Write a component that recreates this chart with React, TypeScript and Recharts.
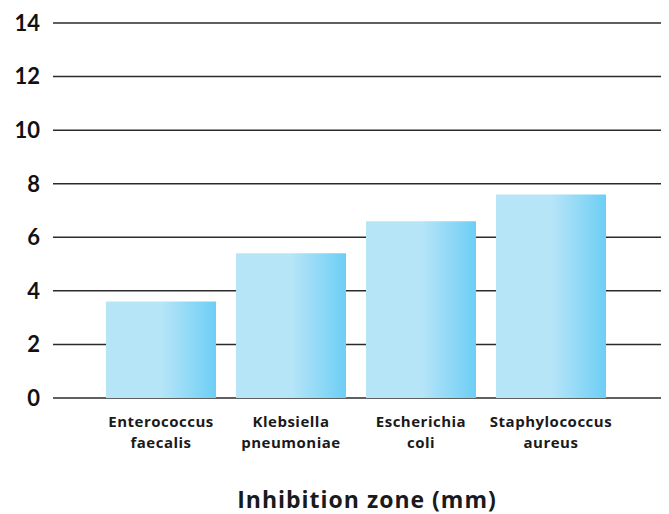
import { BarChart, Bar, XAxis, YAxis, CartesianGrid } from "recharts";

const SPECIES = [
  "Enterococcus faecalis",
  "Klebsiella pneumoniae",
  "Escherichia coli",
  "Staphylococcus aureus",
];
const ZONE_MM = [3.6, 5.4, 6.6, 7.6];
const Y_TICKS = [0, 2, 4, 6, 8, 10, 12, 14];

const FONT = "'Open Sans', Lato, sans-serif";

const data = SPECIES.map((name, i) => ({ name, zone: ZONE_MM[i] }));

// genus on the first line, species on the second
function SpeciesTick({ x, y, payload }: any) {
  const words = String(payload.value).split(" ");
  return (
    <g>
      {words.map((w, i) => (
        <text
          key={i}
          x={x}
          y={y + 21 + i * 21}
          textAnchor="middle"
          fill="#1a1a1a"
          fontFamily={FONT}
          fontWeight={700}
          fontSize={15}
          letterSpacing={0.5}
        >
          {w}
        </text>
      ))}
    </g>
  );
}

export default function App() {
  return (
    <div style={{ position: "absolute", left: 0, top: 0, background: "#fff" }}>
      <BarChart
        width={669}
        height={514}
        data={data}
        margin={{ top: 23, right: 8, bottom: 0, left: 0 }}
        barCategoryGap={10}
      >
        <defs>
          {/* light on the left, deeper blue at the right edge */}
          <linearGradient id="barBlue" x1="0" y1="0" x2="1" y2="0">
            <stop offset="0%" stopColor="#b7e5f8" />
            <stop offset="50%" stopColor="#b7e5f8" />
            <stop offset="100%" stopColor="#6dcef5" />
          </linearGradient>
        </defs>
        <CartesianGrid vertical={false} stroke="#2b2b2b" strokeWidth={1.5} />
        <XAxis
          dataKey="name"
          axisLine={false}
          tickLine={false}
          height={116}
          padding={{ left: 43, right: 45 }}
          interval={0}
          tick={<SpeciesTick />}
          label={{
            value: "Inhibition zone (mm)",
            position: "insideBottom",
            offset: 6,
            dx: 10,
            fill: "#1a1a1a",
            fontFamily: FONT,
            fontWeight: 700,
            fontSize: 23,
            letterSpacing: 1,
          }}
        />
        <YAxis
          domain={[0, 14]}
          ticks={Y_TICKS}
          width={53}
          axisLine={false}
          tickLine={false}
          tickSize={0}
          tickMargin={13}
          tick={{ fill: "#111", fontFamily: "Lato, sans-serif", fontWeight: 700, fontSize: 22 }}
        />
        <Bar dataKey="zone" fill="url(#barBlue)" isAnimationActive={false} />
      </BarChart>
    </div>
  );
}
